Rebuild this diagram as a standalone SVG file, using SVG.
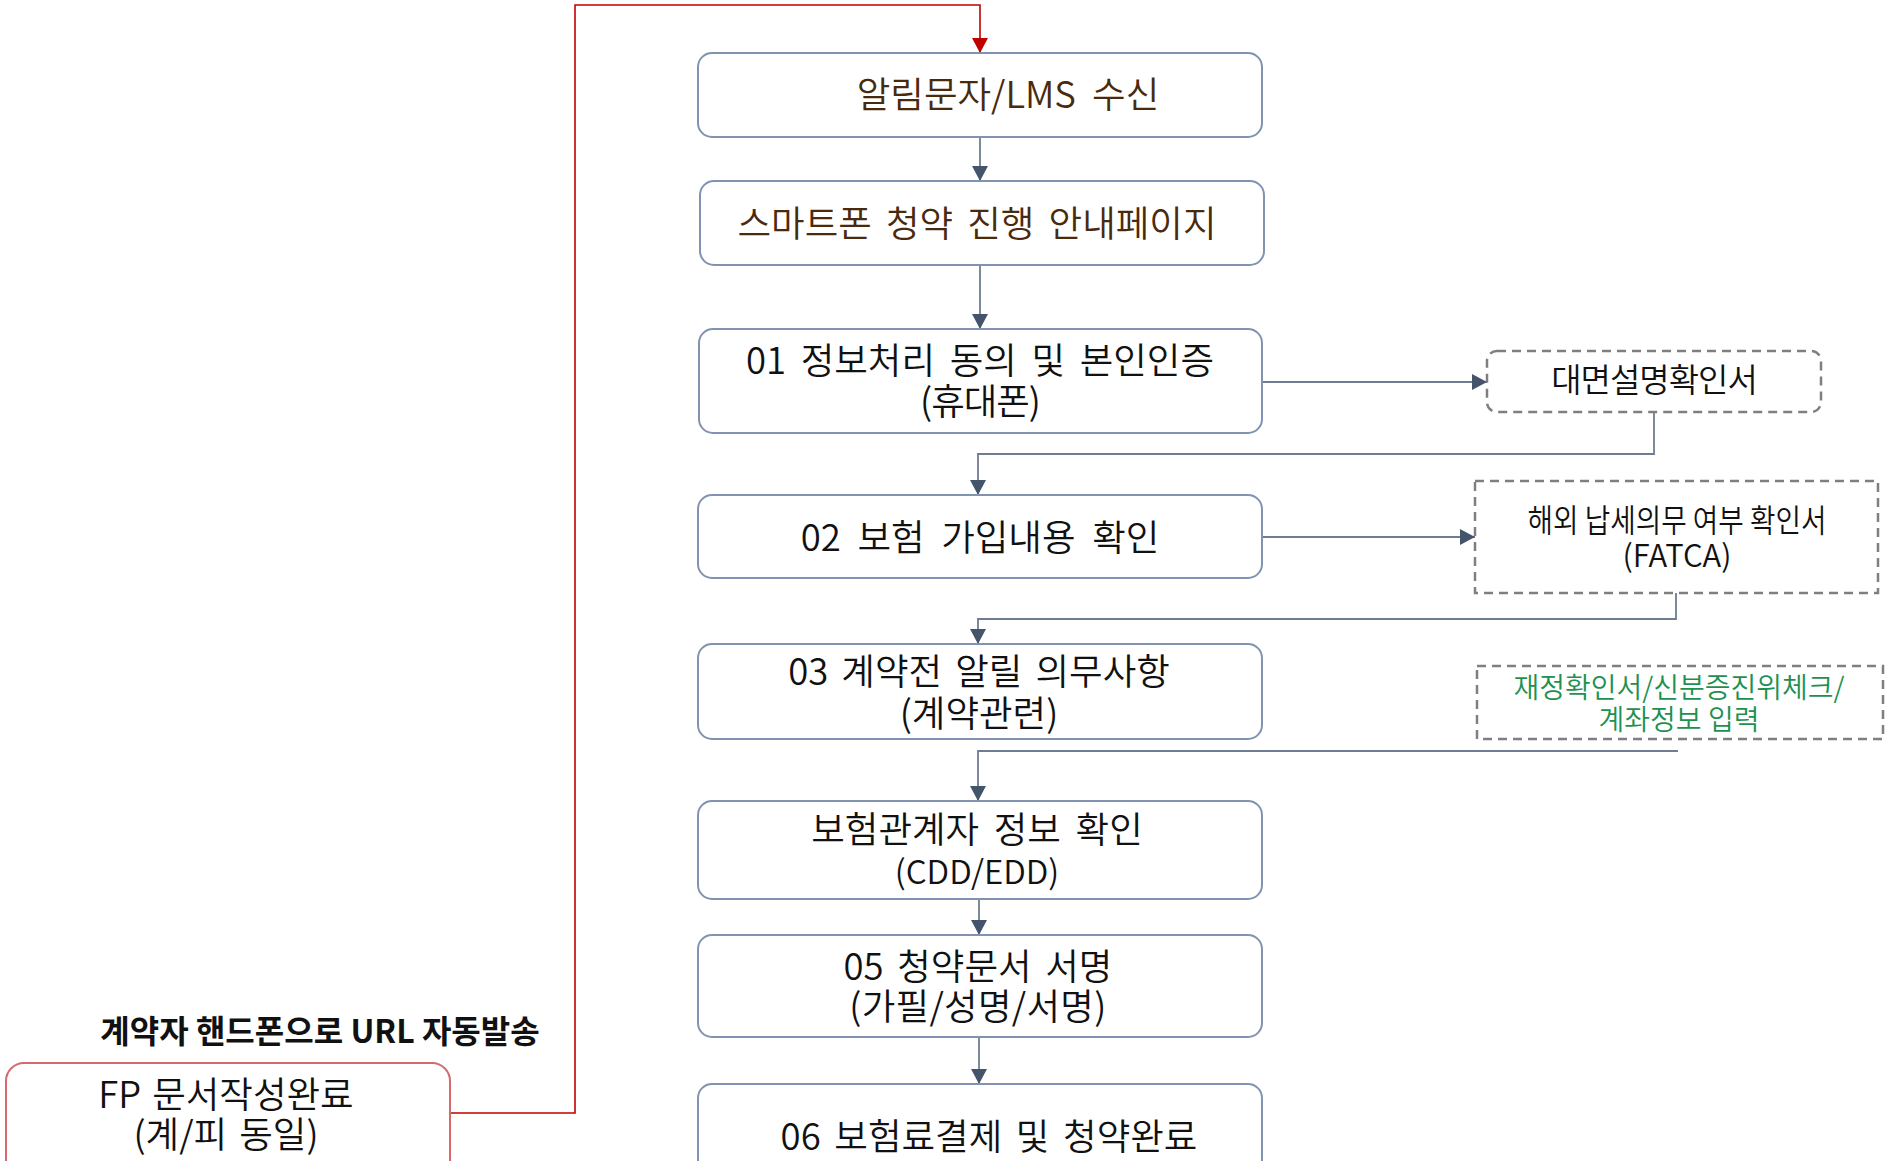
<svg xmlns="http://www.w3.org/2000/svg" width="1893" height="1161" viewBox="0 0 1893 1161">
<defs>
<style>
.box{fill:#fff;stroke:#8193b0;stroke-width:2}
.red{fill:#fff;stroke:#d46a6a;stroke-width:2}
.dash{fill:#fff;stroke:#7f7f7f;stroke-width:2.5;stroke-dasharray:9 6}
.t{font-family:"Noto Sans CJK KR","Noto Sans",sans-serif;font-size:36.5px;font-weight:350;fill:#111;text-anchor:middle}
.brown{fill:#4a2a0c}
.g{fill:#1e9150;font-size:28px}
.c{fill:none;stroke:#6f7d93;stroke-width:1.8}
.rc{fill:none;stroke:#c00000;stroke-width:1.6}
</style>
<marker id="ah" markerUnits="userSpaceOnUse" markerWidth="16" markerHeight="18" refX="15" refY="8" orient="auto"><path d="M0,0 L15,8 L0,16 z" fill="#44546a"/></marker>
<marker id="rh" markerUnits="userSpaceOnUse" markerWidth="16" markerHeight="18" refX="15" refY="8" orient="auto"><path d="M0,0 L15,8 L0,16 z" fill="#c00000"/></marker>
</defs>
<rect width="1893" height="1161" fill="#fff"/>
<g id="connectors">
<path class="rc" d="M450,1113 H575 V5 H980 V53" marker-end="url(#rh)"/>
<path class="c" d="M980,137 V181" marker-end="url(#ah)"/>
<path class="c" d="M980,265 V329" marker-end="url(#ah)"/>
<path class="c" d="M1262,382 H1487" marker-end="url(#ah)"/>
<path class="c" d="M1654,412 V454 H978 V495" marker-end="url(#ah)"/>
<path class="c" d="M1262,537 H1475" marker-end="url(#ah)"/>
<path class="c" d="M1676,593 V619 H978 V644" marker-end="url(#ah)"/>
<path class="c" d="M1678,751 H978 V801" marker-end="url(#ah)"/>
<path class="c" d="M979,899 V935" marker-end="url(#ah)"/>
<path class="c" d="M979,1037 V1084" marker-end="url(#ah)"/>
</g>
<g id="n-lms"><rect class="box" x="698" y="53" width="564" height="84" rx="14"/><text class="t brown" x="1008" y="108" style="word-spacing:8px">알림문자/LMS 수신</text></g>
<g id="n-guide"><rect class="box" x="700" y="181" width="564" height="84" rx="14"/><text class="t brown" x="977" y="237" style="word-spacing:6px">스마트폰 청약 진행 안내페이지</text></g>
<g id="n-01"><rect class="box" x="699" y="329" width="563" height="104" rx="14"/><text class="t" x="980" y="374" style="word-spacing:6.5px">01 정보처리 동의 및 본인인증</text><text class="t" x="980" y="415" style="letter-spacing:-1px">(휴대폰)</text></g>
<g id="n-face"><rect class="dash" x="1487" y="351" width="334" height="61" rx="10"/><text class="t" x="1654" y="392" style="font-size:33px;letter-spacing:-1px">대면설명확인서</text></g>
<g id="n-02"><rect class="box" x="698" y="495" width="564" height="83" rx="14"/><text class="t" x="980" y="551" style="word-spacing:8.5px">02 보험 가입내용 확인</text></g>
<g id="n-fatca"><rect class="dash" x="1475" y="481" width="403" height="112"/><text class="t" x="1677" y="532" style="font-size:32px" textLength="299" lengthAdjust="spacingAndGlyphs">해외 납세의무 여부 확인서</text><text class="t" x="1677" y="567" style="font-size:31px">(FATCA)</text></g>
<g id="n-03"><rect class="box" x="698" y="644" width="564" height="95" rx="14"/><text class="t" x="979" y="685" style="word-spacing:5px">03 계약전 알릴 의무사항</text><text class="t" x="979" y="727">(계약관련)</text></g>
<g id="n-fin"><rect class="dash" x="1477" y="666" width="406" height="73"/><text class="t g" x="1679" y="698">재정확인서/신분증진위체크/</text><text class="t g" x="1679" y="730">계좌정보 입력</text></g>
<g id="n-cdd"><rect class="box" x="698" y="801" width="564" height="98" rx="14"/><text class="t" x="977" y="843" style="word-spacing:6.5px">보험관계자 정보 확인</text><text class="t" x="977" y="884" style="font-size:33px">(CDD/EDD)</text></g>
<g id="n-05"><rect class="box" x="698" y="935" width="564" height="102" rx="14"/><text class="t" x="978" y="980" style="word-spacing:5.5px">05 청약문서 서명</text><text class="t" x="978" y="1020" style="letter-spacing:0.3px">(가필/성명/서명)</text></g>
<g id="n-06"><rect class="box" x="698" y="1084" width="564" height="100" rx="14"/><text class="t" x="989" y="1150" style="word-spacing:5.5px">06 보험료결제 및 청약완료</text></g>
<g id="n-fp"><rect class="red" x="6" y="1063" width="444" height="120" rx="18"/><text class="t" x="226" y="1108" style="word-spacing:3px">FP 문서작성완료</text><text class="t" x="226" y="1148" style="word-spacing:4px">(계/피 동일)</text></g>
<g id="label"><text class="t" x="320" y="1043" style="font-size:32px;font-weight:bold">계약자 핸드폰으로 URL 자동발송</text></g>
</svg>
